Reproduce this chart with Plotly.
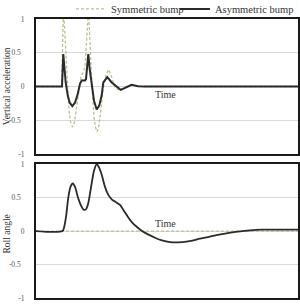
import plotly.graph_objects as go

# ---- data (time in arbitrary units) ----
acc_asym_t = [0, 26, 27.3, 28.3, 29.7, 31.7, 33.7, 36.3, 39, 41.7, 44, 45.7, 49, 50, 52.3, 53.7, 55.7, 58,
              60.7, 63.3, 65.7, 67.3, 71.3, 75.7, 84.7, 90, 95.7, 102, 109, 262]
acc_asym_v = [0, 0, 0.48, 0.26, 0.06, -0.13, -0.24, -0.29, -0.24, -0.11, 0.04, 0.09, 0.09, 0.11, 0.48, 0.26, 0.01, -0.21,
              -0.34, -0.28, -0.13, 0.06, 0.14, 0.06, -0.05, -0.01, 0.025, 0.005, 0, 0]

acc_sym_t = [0, 25.5, 27.5, 29, 31, 33, 34.5, 36.5, 38.5, 40.5, 43, 45, 47.3, 49, 52.5, 54, 56, 58, 59.5, 61,
             62.5, 64.5, 67, 70, 72.5, 75, 79, 84, 89, 95, 101, 109, 262]
acc_sym_v = [0, 0, 1.15, 0.75, 0.1, -0.35, -0.52, -0.6, -0.53, -0.3, -0.02, 0.15, 0.21, 0.3, 1.15, 0.6, 0.0, -0.45, -0.6, -0.67,
             -0.62, -0.4, -0.05, 0.18, 0.25, 0.17, -0.02, -0.06, -0.01, 0.03, 0.005, 0, 0]

roll_asym_t = [0, 26.5, 28, 30, 32.3, 34.5, 36.7, 39, 42, 45, 47.5, 49.7, 52, 55, 58, 60.7, 63, 65.7, 69, 72.3, 76, 79,
               84, 88, 92, 96, 101, 106, 112, 119, 126, 134, 142, 152, 164, 176, 189, 202, 214, 226, 262]
roll_asym_v = [0, 0, 0.05, 0.21, 0.5, 0.66, 0.71, 0.66, 0.5, 0.38, 0.32, 0.32, 0.4, 0.65, 0.9, 1.0, 0.95, 0.84, 0.66, 0.54, 0.47, 0.44,
               0.39, 0.3, 0.21, 0.13, 0.06, 0.0, -0.05, -0.1, -0.14, -0.165, -0.17, -0.155, -0.115, -0.075, -0.04, -0.01, 0.01, 0.02, 0.02]

roll_sym_t = [0, 262]
roll_sym_v = [0, 0]

tick_vals = [1, 0.5, 0, -0.5, -1]
tick_text = ["1", "0.5\u00a0\u00a0", "0", "-0.5\u00a0\u00a0", "-1"]

SYM_COLOR = "#bfbf8f"
ASYM_COLOR = "#2b2b2b"
FONT = "Liberation Serif"

fig = go.Figure()
fig.add_trace(go.Scatter(x=acc_sym_t, y=acc_sym_v, mode="lines", name="Symmetric bump", legend="legend",
                         line=dict(color=SYM_COLOR, width=1.3, dash="3px,2px"), xaxis="x", yaxis="y"))
fig.add_trace(go.Scatter(x=acc_asym_t, y=acc_asym_v, mode="lines", name="Asymmetric bump", legend="legend2",
                         line=dict(color=ASYM_COLOR, width=2), xaxis="x", yaxis="y"))
fig.add_trace(go.Scatter(x=roll_sym_t, y=roll_sym_v, mode="lines", showlegend=False,
                         line=dict(color=SYM_COLOR, width=1.3, dash="3px,2px"), xaxis="x2", yaxis="y2"))
fig.add_trace(go.Scatter(x=roll_asym_t, y=roll_asym_v, mode="lines", showlegend=False,
                         line=dict(color=ASYM_COLOR, width=1.8, shape="spline", smoothing=0.8), xaxis="x2", yaxis="y2"))

axis_common = dict(showline=True, linewidth=2, linecolor="#1a1a1a", mirror=True, zeroline=False)
yax = dict(range=[-1, 1], tickmode="array", tickvals=tick_vals, ticktext=tick_text,
           showgrid=True, gridcolor="#d9d9d9", gridwidth=1, ticks="", ticklabelstandoff=8,
           tickfont=dict(family=FONT, size=7.5, color="#555555"), **axis_common)
xax = dict(range=[0, 262], showticklabels=False, showgrid=False, ticks="", **axis_common)

legend_style = dict(orientation="h", xanchor="left", yanchor="middle", y=1.036,
                    font=dict(family=FONT, size=10.5, color="#333333"), bgcolor="rgba(0,0,0,0)",
                    itemwidth=30)

fig.update_layout(
    width=300, height=306,
    margin=dict(l=36, r=2, t=19, b=8, autoexpand=False),
    paper_bgcolor="white", plot_bgcolor="white",
    font=dict(family=FONT, color="#333333"),
    xaxis=dict(domain=[0, 1], anchor="y", **xax),
    yaxis=dict(domain=[0.516, 1], anchor="x", **yax),
    xaxis2=dict(domain=[0, 1], anchor="y2", **xax),
    yaxis2=dict(domain=[0, 0.48], anchor="x2", **yax),
    legend=dict(x=0.1336, **legend_style),
    legend2=dict(x=0.5305, **legend_style),
    showlegend=True,
    annotations=[
        dict(text="Vertical acceleration", xref="paper", yref="paper", x=-0.112, y=0.758,
             xanchor="center", yanchor="middle", textangle=-90, showarrow=False,
             font=dict(family=FONT, size=9.5, color="#333333")),
        dict(text="Roll angle", xref="paper", yref="paper", x=-0.112, y=0.23,
             xanchor="center", yanchor="middle", textangle=-90, showarrow=False,
             font=dict(family=FONT, size=9.5, color="#333333")),
        dict(text="Time", xref="x", yref="y", x=117, y=-0.12, xanchor="left", yanchor="middle",
             showarrow=False, font=dict(family=FONT, size=10, color="#333333")),
        dict(text="Time", xref="x2", yref="y2", x=117, y=0.12, xanchor="left", yanchor="middle",
             showarrow=False, font=dict(family=FONT, size=10, color="#333333")),
    ],
)

fig.write_html("out.html")
